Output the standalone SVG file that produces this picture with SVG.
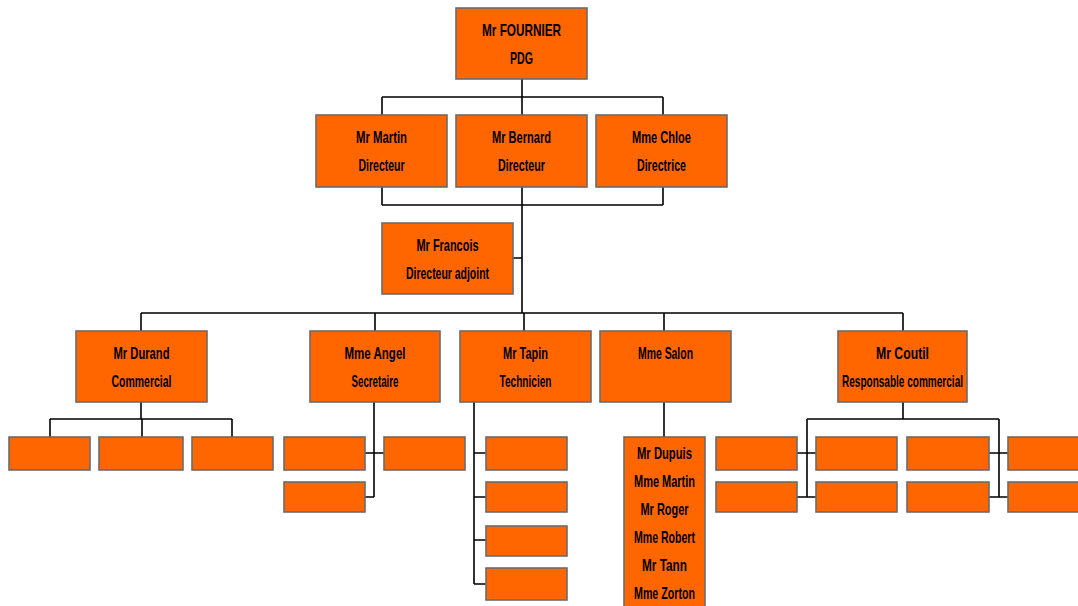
<svg xmlns="http://www.w3.org/2000/svg" width="1078" height="606" viewBox="0 0 1078 606">
<style>
.b{fill:#FF6600;stroke:#6b6b6b;stroke-width:1.6}
.c{fill:none;stroke:#000;stroke-width:1.6}
text{font-family:"Liberation Sans",Arial,sans-serif;font-size:17px;font-weight:bold;fill:#000;text-anchor:middle}
</style>
<rect width="1078" height="606" fill="#fff"/>
<g id="connectors">
<path class="c" d="M522 79V97M382 97H663M382 97V115M522 97V115M663 97V115"/>
<path class="c" d="M382 187V205M522 187V205M663 187V205M382 205H663M522 205V313M513 258H522"/>
<path class="c" d="M141 313H903M141 313V331M375 313V331M524 313V331M664 313V331M903 313V331"/>
<path class="c" d="M141 402V419M50 419H232M50 419V437M142 419V437M232 419V437"/>
<path class="c" d="M374 402V497M365 453H384M365 497H374"/>
<path class="c" d="M474 402V584M474 453H486M474 497H486M474 540H486M474 584H486"/>
<path class="c" d="M664 402V437"/>
<path class="c" d="M903 402V419M807 419H999M807 419V497M999 419V497M797 453H816M797 497H816M989 453H1008M989 497H1008"/>
</g>
<g id="n-pdg"><rect class="b" x="456" y="8" width="131" height="71"/><text x="521.5" y="36" textLength="79" lengthAdjust="spacingAndGlyphs">Mr FOURNIER</text><text x="521.5" y="64" textLength="23" lengthAdjust="spacingAndGlyphs">PDG</text></g>
<g id="n-martin"><rect class="b" x="316" y="115" width="131" height="72"/><text x="381.5" y="143" textLength="51" lengthAdjust="spacingAndGlyphs">Mr Martin</text><text x="381.5" y="171" textLength="46" lengthAdjust="spacingAndGlyphs">Directeur</text></g>
<g id="n-bernard"><rect class="b" x="456" y="115" width="131" height="72"/><text x="521.5" y="143" textLength="59" lengthAdjust="spacingAndGlyphs">Mr Bernard</text><text x="521.5" y="171" textLength="47" lengthAdjust="spacingAndGlyphs">Directeur</text></g>
<g id="n-chloe"><rect class="b" x="596" y="115" width="131" height="72"/><text x="661.5" y="143" textLength="59" lengthAdjust="spacingAndGlyphs">Mme Chloe</text><text x="661.5" y="171" textLength="49" lengthAdjust="spacingAndGlyphs">Directrice</text></g>
<g id="n-francois"><rect class="b" x="382" y="223" width="131" height="71"/><text x="447.5" y="251" textLength="62" lengthAdjust="spacingAndGlyphs">Mr Francois</text><text x="447.5" y="279" textLength="83" lengthAdjust="spacingAndGlyphs">Directeur adjoint</text></g>
<g id="n-durand"><rect class="b" x="76" y="331" width="131" height="71"/><text x="141.5" y="359" textLength="56" lengthAdjust="spacingAndGlyphs">Mr Durand</text><text x="141.5" y="387" textLength="60" lengthAdjust="spacingAndGlyphs">Commercial</text></g>
<g id="n-angel"><rect class="b" x="310" y="331" width="130" height="71"/><text x="375" y="359" textLength="61" lengthAdjust="spacingAndGlyphs">Mme Angel</text><text x="375" y="387" textLength="47" lengthAdjust="spacingAndGlyphs">Secretaire</text></g>
<g id="n-tapin"><rect class="b" x="460" y="331" width="131" height="71"/><text x="525.5" y="359" textLength="45" lengthAdjust="spacingAndGlyphs">Mr Tapin</text><text x="525.5" y="387" textLength="52" lengthAdjust="spacingAndGlyphs">Technicien</text></g>
<g id="n-salon"><rect class="b" x="600" y="331" width="131" height="71"/><text x="665.5" y="359" textLength="55" lengthAdjust="spacingAndGlyphs">Mme Salon</text></g>
<g id="n-coutil"><rect class="b" x="838" y="331" width="129" height="71"/><text x="902.5" y="359" textLength="53" lengthAdjust="spacingAndGlyphs">Mr Coutil</text><text x="902.5" y="387" textLength="121" lengthAdjust="spacingAndGlyphs">Responsable commercial</text></g>
<g id="n-durand-1"><rect class="b" x="9" y="437" width="81" height="33"/></g>
<g id="n-durand-2"><rect class="b" x="99" y="437" width="84" height="33"/></g>
<g id="n-durand-3"><rect class="b" x="192" y="437" width="81" height="33"/></g>
<g id="n-angel-1"><rect class="b" x="284" y="437" width="81" height="33"/></g>
<g id="n-angel-2"><rect class="b" x="384" y="437" width="81" height="33"/></g>
<g id="n-angel-3"><rect class="b" x="284" y="482" width="81" height="30"/></g>
<g id="n-tapin-1"><rect class="b" x="486" y="437" width="81" height="33"/></g>
<g id="n-tapin-2"><rect class="b" x="486" y="482" width="81" height="30"/></g>
<g id="n-tapin-3"><rect class="b" x="486" y="526" width="81" height="30"/></g>
<g id="n-tapin-4"><rect class="b" x="486" y="568" width="81" height="32"/></g>
<g id="n-salon-list"><rect class="b" x="624" y="437" width="81" height="185"/>
<text x="664.5" y="459" textLength="55" lengthAdjust="spacingAndGlyphs">Mr Dupuis</text>
<text x="664.5" y="487" textLength="61" lengthAdjust="spacingAndGlyphs">Mme Martin</text>
<text x="664.5" y="515" textLength="48" lengthAdjust="spacingAndGlyphs">Mr Roger</text>
<text x="664.5" y="543" textLength="61" lengthAdjust="spacingAndGlyphs">Mme Robert</text>
<text x="664.5" y="571" textLength="45" lengthAdjust="spacingAndGlyphs">Mr Tann</text>
<text x="664.5" y="599" textLength="61" lengthAdjust="spacingAndGlyphs">Mme Zorton</text></g>
<g id="n-coutil-1"><rect class="b" x="716" y="437" width="81" height="33"/></g>
<g id="n-coutil-2"><rect class="b" x="816" y="437" width="81" height="33"/></g>
<g id="n-coutil-3"><rect class="b" x="907" y="437" width="82" height="33"/></g>
<g id="n-coutil-4"><rect class="b" x="1008" y="437" width="81" height="33"/></g>
<g id="n-coutil-5"><rect class="b" x="716" y="482" width="81" height="30"/></g>
<g id="n-coutil-6"><rect class="b" x="816" y="482" width="81" height="30"/></g>
<g id="n-coutil-7"><rect class="b" x="907" y="482" width="82" height="30"/></g>
<g id="n-coutil-8"><rect class="b" x="1008" y="482" width="81" height="30"/></g>
</svg>
